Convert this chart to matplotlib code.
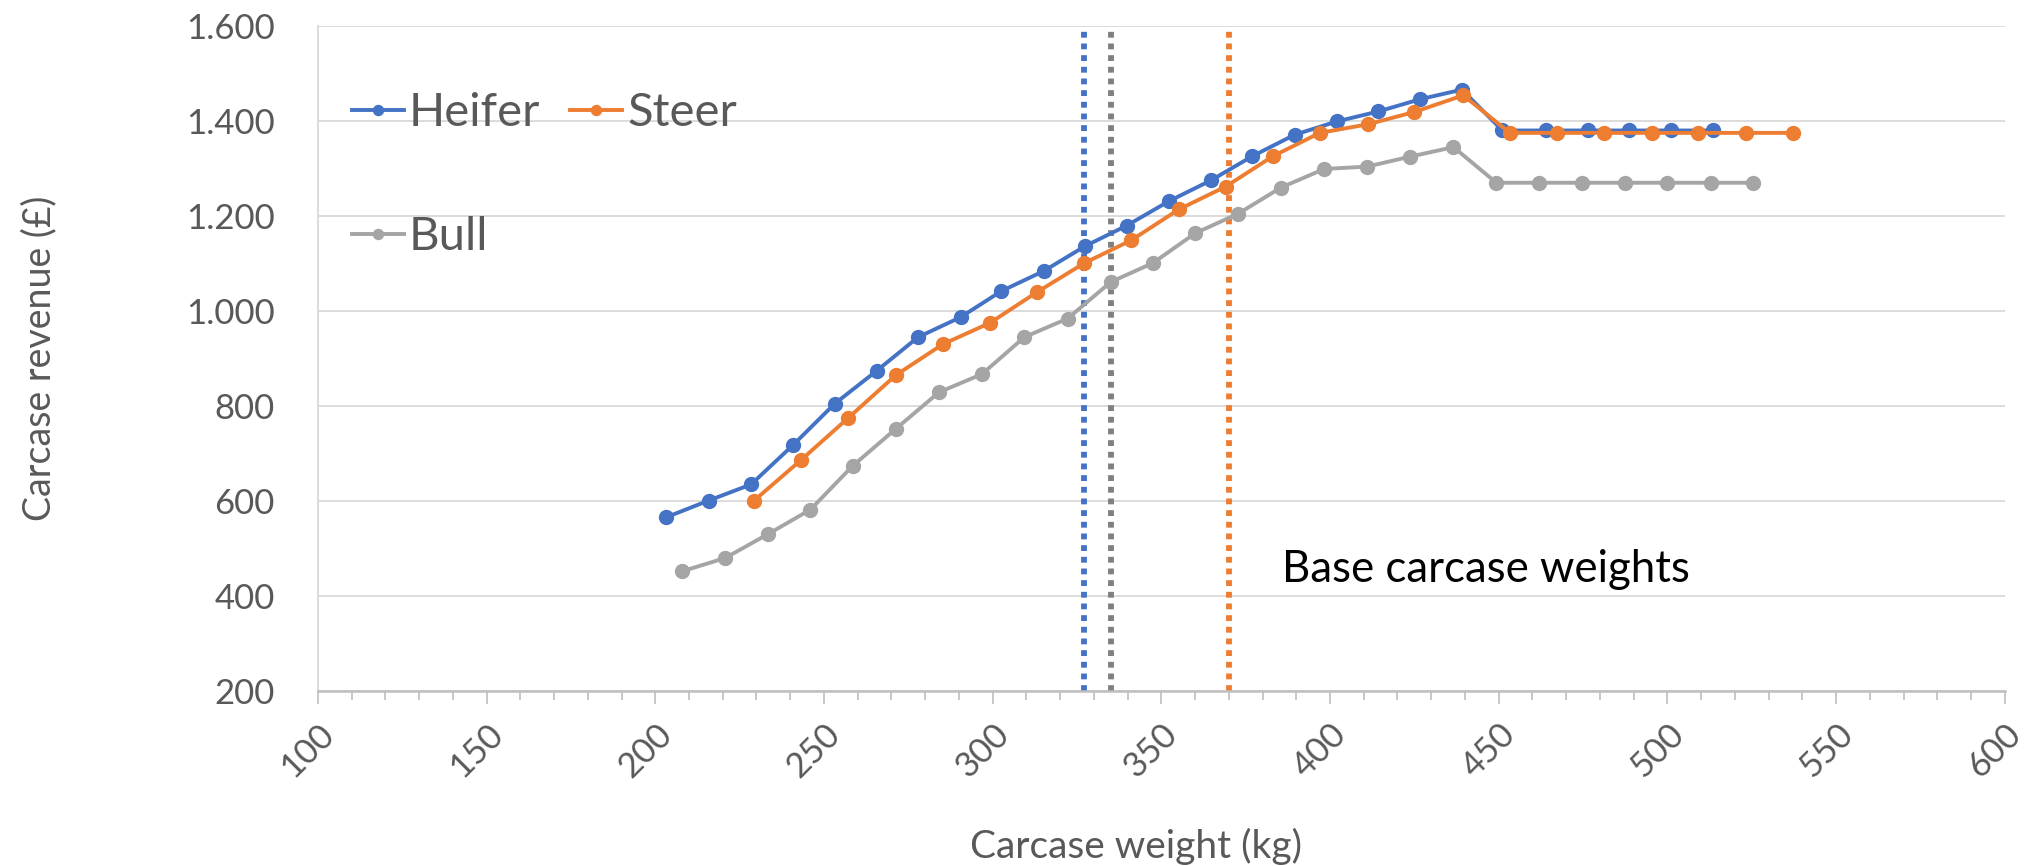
import matplotlib.pyplot as plt
from matplotlib.ticker import MultipleLocator, FuncFormatter

plt.rcParams['font.family'] = ['Lato', 'DejaVu Sans']

heifer_kg = [203.3, 215.8, 228.4, 240.7, 253.2, 265.6, 277.9, 290.5, 302.6, 315.1,
             327.5, 339.8, 352.2, 364.7, 377.0, 389.5, 402.0, 414.3, 426.8, 439.1,
             451.1, 463.9, 476.6, 488.7, 501.1, 513.5]
heifer_rev = [566, 601, 635, 717, 805, 874, 945, 987, 1042, 1084,
              1137, 1180, 1231, 1275, 1326, 1371, 1399, 1420, 1446, 1466,
              1380, 1380, 1380, 1380, 1380, 1380]

steer_kg = [229.3, 243.3, 257.2, 271.3, 285.2, 299.2, 313.2, 327.2, 341.1, 355.2,
            369.1, 383.1, 397.0, 411.2, 425.0, 439.5, 453.3, 467.4, 481.3, 495.3,
            509.2, 523.4, 537.3]
steer_rev = [601, 687, 775, 865, 930, 975, 1040, 1101, 1149, 1214,
             1262, 1326, 1375, 1393, 1419, 1454, 1375, 1375, 1375, 1375,
             1375, 1375, 1375]

bull_kg = [207.9, 220.7, 233.3, 246.0, 258.5, 271.3, 284.1, 296.8, 309.4, 322.2,
           335.0, 347.5, 360.1, 372.8, 385.5, 398.3, 411.0, 423.8, 436.6, 449.3,
           462.0, 474.8, 487.5, 500.0, 512.8, 525.5]
bull_rev = [452, 480, 530, 582, 674, 752, 829, 867, 945, 984,
            1061, 1101, 1164, 1205, 1260, 1299, 1304, 1325, 1345, 1270,
            1270, 1270, 1270, 1270, 1270, 1270]

base_weights = {'Heifer': 327, 'Bull': 335, 'Steer': 370}

blue = '#4472C4'
orange = '#ED7D31'
grey = '#A5A5A5'
text_grey = '#595959'


def plot_revenue():
  fig = plt.figure(figsize=(20.25, 8.66), dpi=100)
  ax = fig.add_axes([0.157, 0.202, 0.833, 0.768])

  ax.set_xlim(100, 600)
  ax.set_ylim(200, 1600)

  # base weight markers (square dots)
  for key, col in [('Heifer', blue), ('Bull', '#7F7F7F'), ('Steer', orange)]:
    ax.plot([base_weights[key]] * 2, [200, 1600], color=col, lw=4.2, ls=(0, (1, 1)),
            dash_capstyle='butt', zorder=1.5)

  h, = ax.plot(heifer_kg, heifer_rev, color=blue, lw=2.8, marker='o', ms=10, label='Heifer', zorder=3)
  s, = ax.plot(steer_kg, steer_rev, color=orange, lw=2.8, marker='o', ms=10, label='Steer', zorder=3.1)
  b, = ax.plot(bull_kg, bull_rev, color=grey, lw=2.8, marker='o', ms=10, label='Bull', zorder=2.9)

  ax.text(385.7, 455, 'Base carcase weights', fontsize=31.5, color='black', va='center', ha='left')

  ax.yaxis.set_major_locator(MultipleLocator(200))
  ax.yaxis.set_major_formatter(FuncFormatter(lambda v, p: f'{v:,.0f}'.replace(',', '.')))
  ax.xaxis.set_major_locator(MultipleLocator(50))
  ax.xaxis.set_minor_locator(MultipleLocator(10))

  ax.grid(axis='y', color='#D9D9D9', lw=1.3, zorder=0)
  ax.set_axisbelow(True)
  for side in ['top', 'right']:
    ax.spines[side].set_visible(False)
  ax.spines['left'].set_color('#D9D9D9')
  ax.spines['left'].set_linewidth(1.3)
  ax.spines['bottom'].set_color('#BFBFBF')
  ax.spines['bottom'].set_linewidth(1.8)

  ax.tick_params(axis='y', length=0, pad=31, labelsize=25, labelcolor=text_grey)
  ax.tick_params(axis='x', which='major', length=9, width=1.2, color='#BFBFBF',
                 pad=10, labelsize=25, labelcolor=text_grey)
  ax.tick_params(axis='x', which='minor', length=6.5, width=1.2, color='#BFBFBF')
  for lbl in ax.get_xticklabels():
    lbl.set_rotation(45)
    lbl.set_ha('right')
    lbl.set_va('top')
    lbl.set_rotation_mode('anchor')

  ax.set_xlabel('Carcase weight (kg)', fontsize=28, color=text_grey)
  ax.set_ylabel('Carcase revenue (£)', fontsize=27, color=text_grey)
  ax.xaxis.label.set_va('center')
  ax.yaxis.label.set_va('center')
  ax.xaxis.set_label_coords(0.485, -0.233)
  ax.yaxis.set_label_coords(-0.165, 0.5)

  leg = ax.legend([h, b, s], ['Heifer', 'Bull', 'Steer'], ncol=2, loc='upper left',
                  bbox_to_anchor=(0.02, 0.90), frameon=False, fontsize=34,
                  handlelength=1.1, handletextpad=0.1, columnspacing=0.65,
                  labelspacing=1.73, borderpad=0, borderaxespad=0, markerscale=0.72)
  for t in leg.get_texts():
    t.set_color(text_grey)

  plt.savefig('out.png', dpi=100)


plot_revenue()
